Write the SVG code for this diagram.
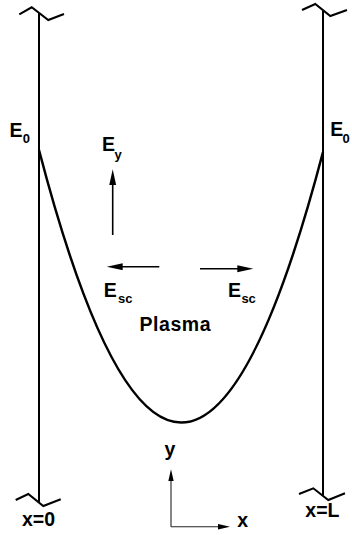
<svg xmlns="http://www.w3.org/2000/svg" width="352" height="535" viewBox="0 0 352 535">
  <style>
    .wall { stroke: #000; stroke-width: 2; fill: none; }
    .brk { stroke: #000; stroke-width: 2; fill: none; stroke-linejoin: miter; }
    .curve { stroke: #000; stroke-width: 2.5; fill: none; }
    .arr { stroke: #000; stroke-width: 1.6; fill: none; }
    .axis { stroke: #222; stroke-width: 1.1; fill: none; }
    text { font-family: "Liberation Sans", Arial, sans-serif; font-weight: bold; fill: #000; }
    .big { font-size: 19.5px; }
    .sub { font-size: 13px; }
  </style>
  <defs>
    <marker id="head" markerUnits="userSpaceOnUse" markerWidth="18" markerHeight="8" refX="2" refY="3.5" orient="auto">
      <path d="M0,0 L16,3.5 L0,7 z" fill="#000"/>
    </marker>
    <marker id="axhead" markerUnits="userSpaceOnUse" markerWidth="14" markerHeight="7" refX="2" refY="2.75" orient="auto">
      <path d="M0,0 L12,2.75 L0,5.5 z" fill="#000"/>
    </marker>
  </defs>

  <g id="wall-left">
    <line class="wall" x1="39" y1="13" x2="39" y2="502.6"/>
    <polyline class="brk" points="19.3,14.3 31.7,7.3 48.3,20 64,14"/>
    <polyline class="brk" points="15.7,500 28.3,494 43.3,506 60.7,499.3"/>
    <text class="big" x="9.6" y="136.7">E</text>
    <text class="sub" x="22.8" y="143.3">0</text>
    <text class="big" x="22" y="526">x=0</text>
  </g>

  <g id="wall-right">
    <line class="wall" x1="323" y1="10.2" x2="323" y2="495.6"/>
    <polyline class="brk" points="302,10 315.3,4 330.3,16 347,10"/>
    <polyline class="brk" points="299,494 313.3,488.3 328.3,500 345,493.3"/>
    <text class="big" x="330.3" y="136">E</text>
    <text class="sub" x="342.4" y="143.3">0</text>
    <text class="big" x="305.3" y="516.7">x=L</text>
  </g>

  <g id="plasma">
    <path class="curve" d="M39,150 Q181,694 323,152"/>
    <text class="big" x="139.5" y="331" textLength="71" lengthAdjust="spacing">Plasma</text>
  </g>

  <g id="field-labels">
    <text class="big" x="102" y="150.7">E</text>
    <text class="sub" x="114.5" y="158.5">y</text>
    <text class="big" x="103.7" y="296.7">E</text>
    <text class="sub" x="118" y="302.7">sc</text>
    <text class="big" x="228" y="296.7">E</text>
    <text class="sub" x="241.4" y="302.7">sc</text>
    <text class="big" x="164.5" y="455.5">y</text>
    <text class="big" x="237.3" y="526.7">x</text>
  </g>

  <g id="connectors">
    <line class="arr" x1="112.7" y1="235" x2="112.7" y2="183.3" marker-end="url(#head)"/>
    <line class="arr" x1="159.3" y1="266.7" x2="120.7" y2="266.7" marker-end="url(#head)"/>
    <line class="arr" x1="200" y1="268.7" x2="239.3" y2="268.7" marker-end="url(#head)"/>
    <line class="axis" x1="171" y1="526.7" x2="171" y2="479.3" marker-end="url(#axhead)"/>
    <line class="axis" x1="171" y1="526.7" x2="220" y2="526.7" marker-end="url(#axhead)"/>
  </g>
</svg>
